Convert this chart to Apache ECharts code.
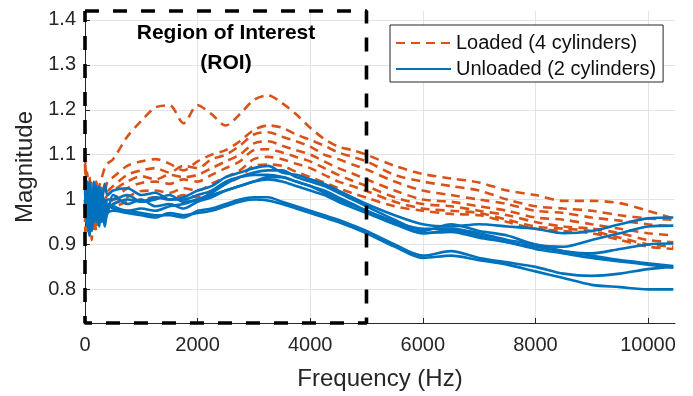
<!DOCTYPE html>
<html>
<head>
<meta charset="utf-8">
<script src="https://cdn.jsdelivr.net/npm/echarts@6/dist/echarts.min.js"></script>
<style>html,body{margin:0;padding:0;background:#fff}#c{width:693px;height:396px}</style>
</head>
<body>
<div id="c"></div>
<script>
// Frequencies (Hz) shared by all curves
const freq = [0, 40, 80, 120, 160, 200, 250, 300, 350, 400, 500, 750, 1000, 1250, 1500, 1750, 2000, 2250, 2500, 2750, 3000, 3250, 3500, 3750, 4000, 4250, 4500, 4750, 5000, 5500, 6000, 6500, 7000, 7500, 8000, 8500, 9000, 9500, 10000, 10450];

// Loaded (4 cylinders) curves
const loaded1 = [1.10, 1.00, 0.96, 1.04, 0.99, 1.02, 1.03, 1.05, 1.07, 1.08, 1.09, 1.14, 1.175, 1.205, 1.21, 1.17, 1.21, 1.19, 1.165, 1.19, 1.222, 1.232, 1.215, 1.19, 1.16, 1.135, 1.118, 1.11, 1.10, 1.075, 1.057, 1.047, 1.038, 1.02, 1.01, 0.997, 0.997, 0.992, 0.975, 0.958];
const loaded2 = [1.11, 0.93, 1.05, 0.98, 1.02, 0.97, 1.00, 1.03, 1.02, 1.04, 1.05, 1.075, 1.085, 1.09, 1.08, 1.065, 1.085, 1.10, 1.11, 1.13, 1.155, 1.165, 1.16, 1.145, 1.133, 1.12, 1.105, 1.095, 1.085, 1.055, 1.04, 1.03, 1.02, 1.00, 0.985, 0.98, 0.975, 0.965, 0.958, 0.955];
const loaded3 = [0.95, 1.06, 0.92, 1.01, 0.99, 1.04, 0.98, 1.00, 1.03, 1.02, 1.03, 1.055, 1.065, 1.07, 1.06, 1.075, 1.07, 1.09, 1.10, 1.12, 1.145, 1.15, 1.14, 1.13, 1.118, 1.10, 1.09, 1.078, 1.067, 1.04, 1.02, 1.01, 1.00, 0.99, 0.975, 0.97, 0.96, 0.953, 0.945, 0.94];
const loaded4 = [1.08, 0.97, 0.99, 0.91, 1.02, 0.96, 1.01, 0.99, 1.00, 1.01, 1.02, 1.04, 1.052, 1.045, 1.055, 1.05, 1.055, 1.07, 1.085, 1.10, 1.125, 1.13, 1.12, 1.11, 1.10, 1.085, 1.07, 1.058, 1.045, 1.02, 1.00, 0.995, 0.985, 0.975, 0.96, 0.955, 0.945, 0.935, 0.925, 0.92];
const loaded5 = [1.00, 0.94, 1.03, 0.97, 0.95, 1.00, 0.97, 0.98, 1.00, 0.99, 1.00, 1.025, 1.037, 1.04, 1.035, 1.045, 1.04, 1.055, 1.07, 1.085, 1.11, 1.112, 1.105, 1.095, 1.085, 1.07, 1.055, 1.042, 1.03, 1.005, 0.99, 0.985, 0.975, 0.965, 0.95, 0.94, 0.935, 0.925, 0.91, 0.905];
const loaded6 = [0.92, 1.01, 0.96, 0.99, 0.93, 0.98, 1.00, 0.96, 0.99, 0.98, 0.99, 1.005, 1.019, 1.02, 1.015, 1.025, 1.02, 1.035, 1.05, 1.065, 1.09, 1.095, 1.09, 1.08, 1.07, 1.055, 1.04, 1.03, 1.019, 0.995, 0.98, 0.975, 0.97, 0.955, 0.94, 0.935, 0.93, 0.915, 0.90, 0.895];
const loaded7 = [1.05, 0.95, 0.98, 1.00, 0.97, 0.93, 0.99, 1.00, 0.97, 0.985, 0.985, 0.995, 1.00, 1.005, 1.00, 1.01, 1.005, 1.02, 1.035, 1.05, 1.075, 1.078, 1.075, 1.062, 1.05, 1.038, 1.025, 1.014, 1.004, 0.985, 0.975, 0.968, 0.965, 0.95, 0.935, 0.93, 0.925, 0.91, 0.895, 0.89];

// Unloaded (2 cylinders) curves
const unloaded1 = [1.05, 0.97, 1.03, 0.96, 1.04, 0.98, 1.03, 1.00, 1.035, 1.01, 1.02, 1.025, 1.01, 1.015, 1.00, 1.005, 1.02, 1.03, 1.05, 1.06, 1.07, 1.075, 1.06, 1.055, 1.045, 1.035, 1.02, 1.005, 0.99, 0.965, 0.945, 0.94, 0.945, 0.94, 0.935, 0.925, 0.93, 0.945, 0.958, 0.96];
const unloaded2 = [0.99, 1.04, 0.95, 1.02, 0.97, 1.03, 0.96, 1.02, 0.98, 1.00, 1.00, 1.01, 0.995, 1.00, 1.01, 0.995, 1.00, 1.015, 1.035, 1.05, 1.06, 1.065, 1.065, 1.05, 1.04, 1.03, 1.015, 1.00, 0.985, 0.955, 0.93, 0.945, 0.93, 0.92, 0.90, 0.895, 0.91, 0.925, 0.94, 0.942];
const unloaded3 = [1.02, 0.94, 1.01, 0.99, 0.95, 1.02, 0.98, 0.96, 1.00, 0.97, 1.01, 0.99, 1.00, 0.985, 0.99, 0.98, 0.995, 1.005, 1.02, 1.03, 1.04, 1.05, 1.05, 1.04, 1.03, 1.02, 1.005, 0.99, 0.975, 0.95, 0.925, 0.932, 0.92, 0.905, 0.895, 0.885, 0.88, 0.89, 0.90, 0.902];
const unloaded4 = [0.97, 1.01, 0.93, 1.00, 1.03, 0.96, 1.00, 0.95, 0.99, 0.98, 0.99, 1.00, 0.995, 1.005, 1.00, 1.00, 1.01, 1.02, 1.04, 1.05, 1.055, 1.055, 1.05, 1.04, 1.03, 1.015, 1.00, 0.988, 0.975, 0.95, 0.935, 0.935, 0.925, 0.91, 0.90, 0.885, 0.875, 0.865, 0.858, 0.852];
const unloaded5 = [1.00, 0.96, 1.04, 0.94, 0.99, 1.00, 0.94, 1.01, 0.97, 0.99, 0.985, 0.975, 0.98, 0.975, 0.985, 0.99, 1.00, 1.01, 1.02, 1.03, 1.04, 1.045, 1.04, 1.03, 1.02, 1.01, 0.995, 0.982, 0.97, 0.945, 0.925, 0.928, 0.915, 0.905, 0.89, 0.88, 0.87, 0.862, 0.855, 0.848];
const unloaded6 = [1.03, 0.98, 0.92, 1.01, 0.96, 0.99, 1.02, 0.97, 0.96, 0.99, 0.98, 0.975, 0.97, 0.965, 0.965, 0.96, 0.975, 0.98, 0.99, 1.00, 1.005, 1.005, 0.995, 0.985, 0.975, 0.965, 0.955, 0.943, 0.93, 0.90, 0.875, 0.885, 0.87, 0.86, 0.85, 0.835, 0.83, 0.835, 0.845, 0.85];
const unloaded7 = [0.98, 1.02, 0.97, 0.93, 1.00, 0.95, 0.98, 0.99, 0.94, 0.97, 0.975, 0.97, 0.965, 0.96, 0.97, 0.965, 0.97, 0.975, 0.985, 0.995, 1.00, 0.998, 0.99, 0.98, 0.97, 0.96, 0.95, 0.938, 0.925, 0.895, 0.87, 0.875, 0.865, 0.855, 0.84, 0.825, 0.81, 0.805, 0.80, 0.80];

// Axis ticks and ranges
const xTicks = [0, 2000, 4000, 6000, 8000, 10000];
const yTicks = [0.8, 0.9, 1.0, 1.1, 1.2, 1.3, 1.4];
const xRange = [0, 10480];
const yRange = [0.725, 1.42];
// Region of interest (Hz)
const roi = [0, 5000];

const loadedName = 'Loaded (4 cylinders)';
const unloadedName = 'Unloaded (2 cylinders)';
const loadedSets = [loaded1, loaded2, loaded3, loaded4, loaded5, loaded6, loaded7];
const unloadedSets = [unloaded1, unloaded2, unloaded3, unloaded4, unloaded5, unloaded6, unloaded7];

const ORANGE = '#D95319', BLUE = '#0072BD', AX = '#262626';
const zip = v => freq.map((f, i) => [f, v[i]]);

const series = [];
loadedSets.forEach(v => series.push({
  name: loadedName, type: 'line', data: zip(v), symbol: 'none', smooth: 0.3,
  lineStyle: { color: ORANGE, width: 2.6, type: [9, 6] }, itemStyle: { color: ORANGE }, z: 2
}));
unloadedSets.forEach(v => series.push({
  name: unloadedName, type: 'line', data: zip(v), symbol: 'none', smooth: 0.3,
  lineStyle: { color: BLUE, width: 2.6 }, itemStyle: { color: BLUE }, z: 3
}));
series.push({
  name: 'ROI', type: 'line', symbol: 'none', clip: false, silent: true, z: 5,
  data: [[roi[0], yRange[1]], [roi[1], yRange[1]], [roi[1], yRange[0]], [roi[0], yRange[0]], [roi[0], yRange[1]]],
  lineStyle: { color: '#000', width: 3.6, type: [14, 14] }
});

const chart = echarts.init(document.getElementById('c'), null, { renderer: 'canvas' });
chart.setOption({
  animation: false,
  backgroundColor: '#fff',
  grid: { left: 85, right: 18, top: 11, bottom: 73 },
  xAxis: {
    type: 'value', min: xRange[0], max: xRange[1],
    name: 'Frequency (Hz)', nameLocation: 'middle', nameGap: 44,
    nameTextStyle: { fontFamily: 'Liberation Sans', fontSize: 24, color: AX },
    axisLine: { show: true, lineStyle: { color: AX, width: 1 } },
    axisTick: { show: true, inside: true, length: 5, customValues: xTicks, lineStyle: { color: AX } },
    axisLabel: { customValues: xTicks, fontFamily: 'Liberation Sans', fontSize: 20, color: AX, margin: 12,
      formatter: v => String(Math.round(v)) },
    splitLine: { show: true, lineStyle: { color: '#e3e3e3', width: 1 } }
  },
  yAxis: {
    type: 'value', min: yRange[0], max: yRange[1],
    name: 'Magnitude', nameLocation: 'middle', nameGap: 47,
    nameTextStyle: { fontFamily: 'Liberation Sans', fontSize: 24, color: AX },
    axisLine: { show: true, lineStyle: { color: AX, width: 1 } },
    axisTick: { show: true, inside: true, length: 5, customValues: yTicks, lineStyle: { color: AX } },
    axisLabel: { customValues: yTicks, fontFamily: 'Liberation Sans', fontSize: 20, color: AX, margin: 9,
      formatter: v => (Math.abs(v - 1) < 1e-9 ? '1' : String(Math.round(v * 10) / 10)) },
    splitLine: { show: true, lineStyle: { color: '#e3e3e3', width: 1 } }
  },
  legend: {
    data: [loadedName, unloadedName], orient: 'vertical', left: 390, top: 25,
    padding: [8, 7, 3, 5], itemGap: 6, itemWidth: 55, itemHeight: 14,
    itemStyle: { opacity: 0 },
    backgroundColor: '#fff', borderColor: AX, borderWidth: 1, borderRadius: 0,
    textStyle: { fontFamily: 'Liberation Sans', fontSize: 20, color: '#111' }
  },
  graphic: [
    { type: 'text', x: 226, y: 33.5, z: 10, style: { text: 'Region of Interest', font: 'bold 21px "Liberation Sans"', fill: '#000', textAlign: 'center', textVerticalAlign: 'middle' } },
    { type: 'text', x: 226, y: 63, z: 10, style: { text: '(ROI)', font: 'bold 21px "Liberation Sans"', fill: '#000', textAlign: 'center', textVerticalAlign: 'middle' } }
  ],
  series: series
});
</script>
</body>
</html>
